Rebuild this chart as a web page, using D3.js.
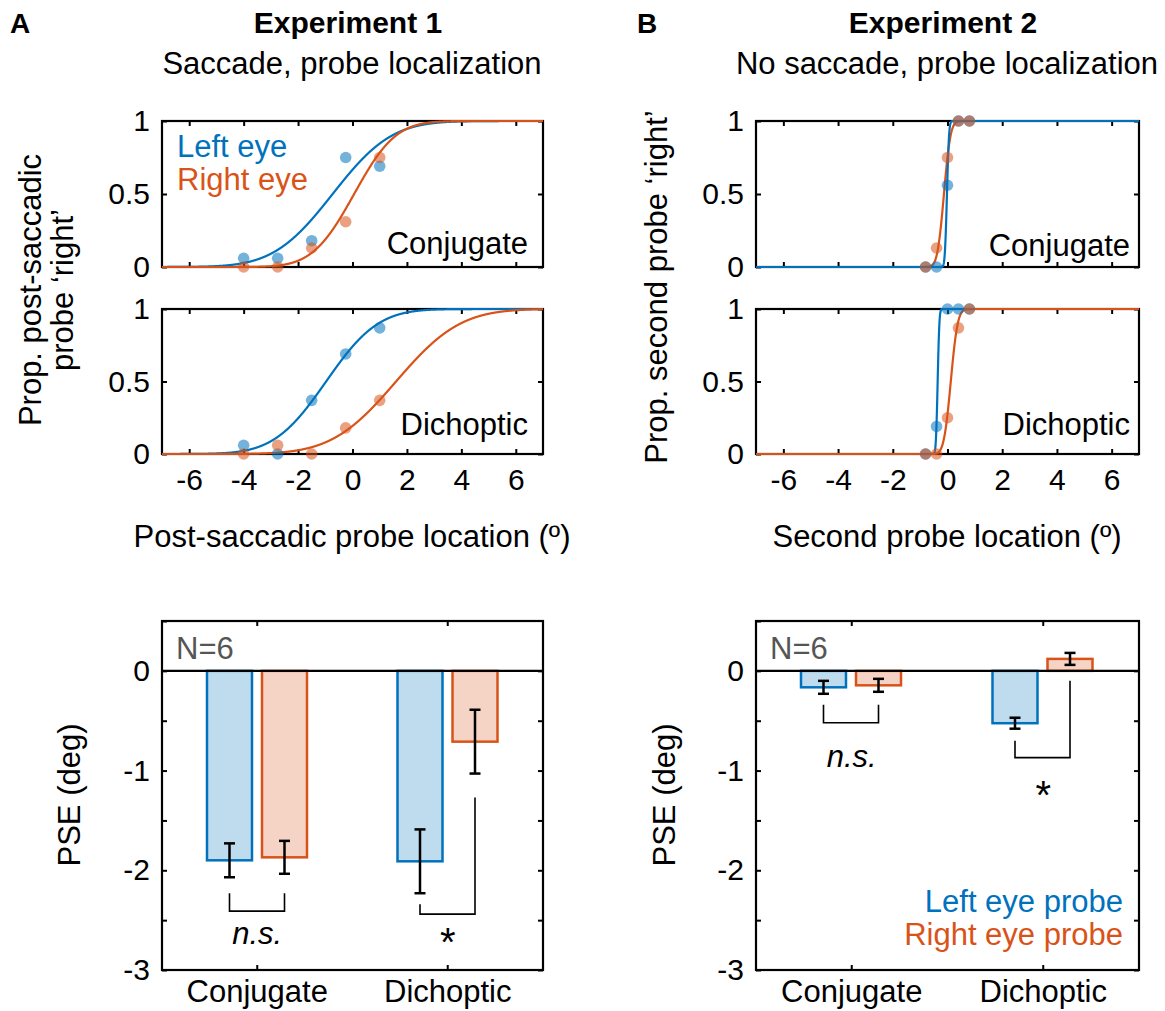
<!DOCTYPE html>
<html><head><meta charset="utf-8">
<script src="https://cdn.jsdelivr.net/npm/d3@7"></script>
<style>
body{margin:0;background:#fff}
svg{display:block}
text{font-family:"Liberation Sans",Arial,Helvetica,sans-serif;}
</style>
</head><body>
<svg id="c" width="1165" height="1011"></svg>
<script>
// ---------------- DATA ----------------
const xDomain = [-7, 7];
const xTicks = [-6, -4, -2, 0, 2, 4, 6];
const yTicksPsych = [0, 0.5, 1];

const probeX1 = [-4, -2.75, -1.5, -0.25, 1];      // Experiment 1 probe locations
const probeX2 = [-0.8, -0.4, 0, 0.4, 0.8];        // Experiment 2 probe locations

const e1ConjLeft  = [0.06, 0.06, 0.18, 0.75, 0.69];
const e1ConjRight = [0.00, 0.00, 0.13, 0.31, 0.75];
const e1DichLeft  = [0.06, 0.00, 0.37, 0.69, 0.87];
const e1DichRight = [0.00, 0.06, 0.00, 0.18, 0.37];
const e2ConjLeft  = [0.00, 0.00, 0.56, 1.00, 1.00];
const e2ConjRight = [0.00, 0.13, 0.75, 1.00, 1.00];
const e2DichLeft  = [0.00, 0.19, 1.00, 1.00, 1.00];
const e2DichRight = [0.00, 0.00, 0.25, 0.87, 1.00];

// fitted cumulative-Gaussian parameters [PSE, sigma]
const e1ConjFitLeft  = [-0.73, 1.70];
const e1ConjFitRight = [0.06, 1.20];
const e1DichFitLeft  = [-0.97, 1.50];
const e1DichFitRight = [1.60, 1.85];
const e2ConjFitLeft  = [-0.02, 0.06];
const e2ConjFitRight = [-0.13, 0.19];
const e2DichFitLeft  = [-0.36, 0.05];
const e2DichFitRight = [0.12, 0.20];

const categories = ["Conjugate", "Dichoptic"];
const eyes = ["left", "right"];
const pseTicks = [-3, -2.5, -2, -1.5, -1, -0.5, 0, 0.5];
const pseLabels = [-3, -2, -1, 0];

const e1PSELeft  = [-1.90, -1.91];
const e1PSERight = [-1.87, -0.71];
const e1SEMLeft  = [0.17, 0.32];
const e1SEMRight = [0.165, 0.32];
const e2PSELeft  = [-0.165, -0.525];
const e2PSERight = [-0.145, 0.12];
const e2SEMLeft  = [0.065, 0.055];
const e2SEMRight = [0.065, 0.06];

// significance brackets: [leftTop, rightTop, bottom] in PSE units, per category
const e1Brackets = [[-2.23, -2.23, -2.41], [-2.34, -1.27, -2.44]];
const e2Brackets = [[-0.34, -0.34, -0.52], [-0.70, -0.10, -0.87]];
const sigText = ["n.s.", "*"];
const e1SigY = [-2.74, -2.86];
const e2SigY = [-0.96, -1.39];

// ---------------- STYLE ----------------
const BLUE = "#0072BD", ORANGE = "#D95319";
const BLUE_L = "#bfdcee", ORANGE_L = "#f5d4c6";
const FS = 31, TFS = 30;

const svg = d3.select("#c");

function erf(x) {
  const s = x < 0 ? -1 : 1; x = Math.abs(x);
  const t = 1 / (1 + 0.3275911 * x);
  const y = 1 - (((((1.061405429 * t - 1.453152027) * t) + 1.421413741) * t - 0.284496736) * t + 0.254829592) * t * Math.exp(-x * x);
  return s * y;
}
const normcdf = (x, p) => 0.5 * (1 + erf((x - p[0]) / (p[1] * Math.SQRT2)));

function styleAxis(g, showText) {
  g.select(".domain").remove();
  g.selectAll(".tick line").attr("stroke", "#000").attr("stroke-width", 2);
  g.selectAll(".tick text").attr("fill", "#000").style("font-size", TFS + "px")
    .style("font-family", '"Liberation Sans",Arial,sans-serif');
  if (!showText) g.selectAll(".tick text").remove();
}

function psychPanel(o) {
  const x = d3.scaleLinear().domain(xDomain).range([o.x0, o.x1]);
  const y = d3.scaleLinear().domain([0, 1]).range([o.yBot, o.yTop]);
  const g = svg.append("g");
  g.append("rect").attr("x", o.x0).attr("y", o.yTop).attr("width", o.x1 - o.x0).attr("height", o.yBot - o.yTop)
    .attr("fill", "none").attr("stroke", "#000").attr("stroke-width", 2.2);
  g.append("g").attr("transform", `translate(0,${o.yBot})`)
    .call(d3.axisBottom(x).tickValues(xTicks).tickSize(-5).tickPadding(15).tickFormat(d => String(d)))
    .call(a => styleAxis(a, o.xLabels));
  g.append("g").attr("transform", `translate(0,${o.yTop})`)
    .call(d3.axisTop(x).tickValues(xTicks).tickSize(-5)).call(a => styleAxis(a, false));
  g.append("g").attr("transform", `translate(${o.x0},0)`)
    .call(d3.axisLeft(y).tickValues(yTicksPsych).tickSize(-5).tickPadding(12).tickFormat(d => String(d)))
    .call(a => styleAxis(a, true));
  g.append("g").attr("transform", `translate(${o.x1},0)`)
    .call(d3.axisRight(y).tickValues(yTicksPsych).tickSize(-5)).call(a => styleAxis(a, false));

  const xs = d3.range(xDomain[0], xDomain[1] + 0.0001, 0.005);
  const line = d3.line().x(d => x(d[0])).y(d => y(d[1]));
  const series = [
    {c: BLUE, fit: o.fitL, vals: o.left},
    {c: ORANGE, fit: o.fitR, vals: o.right}
  ];
  const ordered = o.blueTop ? [series[1], series[0]] : series;
  ordered.forEach(s => {
    g.append("path").datum(xs.map(v => [v, normcdf(v, s.fit)]))
      .attr("d", line).attr("fill", "none").attr("stroke", s.c).attr("stroke-width", 2.2);
  });
  series.forEach(s => {
    g.selectAll(null).data(o.probes.map((p, i) => [p, s.vals[i]])).join("circle")
      .attr("cx", d => x(d[0])).attr("cy", d => y(d[1])).attr("r", 5.8)
      .attr("fill", s.c).attr("fill-opacity", 0.55);
  });
  g.append("text").attr("x", o.labelX).attr("y", o.labelY).attr("text-anchor", "end")
    .style("font-size", FS + "px").text(o.label);
  return g;
}

// ---------- Experiment 1 psychometric ----------
const L0 = 162, L1 = 543, R0 = 756, R1 = 1139;
psychPanel({x0: L0, x1: L1, yTop: 121, yBot: 267, probes: probeX1, left: e1ConjLeft, right: e1ConjRight,
  fitL: e1ConjFitLeft, fitR: e1ConjFitRight, label: "Conjugate", labelX: 528, labelY: 254, xLabels: false});
psychPanel({x0: L0, x1: L1, yTop: 309, yBot: 454, probes: probeX1, left: e1DichLeft, right: e1DichRight,
  fitL: e1DichFitLeft, fitR: e1DichFitRight, label: "Dichoptic", labelX: 528, labelY: 435, xLabels: true});
psychPanel({x0: R0, x1: R1, yTop: 121, yBot: 267, probes: probeX2, left: e2ConjLeft, right: e2ConjRight,
  fitL: e2ConjFitLeft, fitR: e2ConjFitRight, label: "Conjugate", labelX: 1130, labelY: 256, xLabels: false, blueTop: true});
psychPanel({x0: R0, x1: R1, yTop: 309, yBot: 454, probes: probeX2, left: e2DichLeft, right: e2DichRight,
  fitL: e2DichFitLeft, fitR: e2DichFitRight, label: "Dichoptic", labelX: 1130, labelY: 435, xLabels: true});

svg.append("text").attr("x", 177).attr("y", 157).attr("fill", BLUE).style("font-size", FS + "px").text("Left eye");
svg.append("text").attr("x", 177).attr("y", 190).attr("fill", ORANGE).style("font-size", FS + "px").text("Right eye");

// ---------- Bar panels ----------
function barPanel(o) {
  const y = d3.scaleLinear().domain([-3, 0.5]).range([970, 621]);
  const xc = d3.scaleBand().domain(categories).range([o.x0, o.x1]);
  const xe = d3.scaleBand().domain(eyes).range([45, 145]).paddingInner(0.182);
  const g = svg.append("g");
  g.append("rect").attr("x", o.x0).attr("y", 621).attr("width", o.x1 - o.x0).attr("height", 349)
    .attr("fill", "none").attr("stroke", "#000").attr("stroke-width", 2.2);
  g.append("g").attr("transform", "translate(0,970)")
    .call(d3.axisBottom(xc).tickSize(-5).tickPadding(10)).call(a => styleAxis(a, true))
    .selectAll(".tick text").style("font-size", FS + "px").attr("dy", null).attr("y", 32);
  g.append("g").attr("transform", "translate(0,621)")
    .call(d3.axisTop(xc).tickSize(-5)).call(a => styleAxis(a, false));
  g.append("g").attr("transform", `translate(${o.x0},0)`)
    .call(d3.axisLeft(y).tickValues(pseTicks).tickSize(-5).tickPadding(12)
      .tickFormat(d => pseLabels.includes(d) ? String(d) : ""))
    .call(a => styleAxis(a, true));
  g.append("g").attr("transform", `translate(${o.x1},0)`)
    .call(d3.axisRight(y).tickValues(pseTicks.slice(0, -1)).tickSize(-5)).call(a => styleAxis(a, false));

  const bx = (ci, eye) => xc(categories[ci]) + xe(eye);
  const cx = (ci, eye) => bx(ci, eye) + xe.bandwidth() / 2;
  const sets = [
    {eye: "left", vals: o.left, sem: o.semL, c: BLUE, f: BLUE_L},
    {eye: "right", vals: o.right, sem: o.semR, c: ORANGE, f: ORANGE_L}
  ];
  sets.forEach(s => {
    g.selectAll(null).data(s.vals).join("rect")
      .attr("x", (d, i) => bx(i, s.eye)).attr("width", xe.bandwidth())
      .attr("y", d => Math.min(y(d), y(0))).attr("height", d => Math.abs(y(d) - y(0)))
      .attr("fill", s.f).attr("stroke", s.c).attr("stroke-width", 2.5);
  });
  // zero line
  g.append("line").attr("x1", o.x0).attr("x2", o.x1).attr("y1", y(0)).attr("y2", y(0))
    .attr("stroke", "#000").attr("stroke-width", 2.2);
  // error bars
  sets.forEach(s => {
    s.vals.forEach((v, i) => {
      const X = cx(i, s.eye), a = y(v + s.sem[i]), b = y(v - s.sem[i]);
      g.append("line").attr("x1", X).attr("x2", X).attr("y1", a).attr("y2", b).attr("stroke", "#000").attr("stroke-width", 2.5);
      [a, b].forEach(yy => g.append("line").attr("x1", X - 5.5).attr("x2", X + 5.5).attr("y1", yy).attr("y2", yy)
        .attr("stroke", "#000").attr("stroke-width", 2.5));
    });
  });
  // brackets
  const bl = d3.line();
  o.brackets.forEach((b, i) => {
    const xl = cx(i, "left"), xr = cx(i, "right");
    g.append("path").attr("d", bl([[xl, y(b[0])], [xl, y(b[2])], [xr, y(b[2])], [xr, y(b[1])]]))
      .attr("fill", "none").attr("stroke", "#000").attr("stroke-width", 1.6);
    g.append("text").attr("x", xc(categories[i]) + xc.bandwidth() / 2).attr("y", y(o.sigY[i]))
      .attr("text-anchor", "middle").style("font-size", (i === 0 ? FS : 40) + "px")
      .style("font-style", i === 0 ? "italic" : "normal").text(sigText[i]);
  });
  g.append("text").attr("x", o.x0 + 14).attr("y", 659).attr("fill", "#555").style("font-size", FS + "px").text("N=6");
  return g;
}

barPanel({x0: L0, x1: L1, left: e1PSELeft, right: e1PSERight, semL: e1SEMLeft, semR: e1SEMRight,
  brackets: e1Brackets, sigY: e1SigY});
barPanel({x0: R0, x1: R1, left: e2PSELeft, right: e2PSERight, semL: e2SEMLeft, semR: e2SEMRight,
  brackets: e2Brackets, sigY: e2SigY});

svg.append("text").attr("x", 1123).attr("y", 912).attr("text-anchor", "end").attr("fill", BLUE)
  .style("font-size", FS + "px").text("Left eye probe");
svg.append("text").attr("x", 1123).attr("y", 945).attr("text-anchor", "end").attr("fill", ORANGE)
  .style("font-size", FS + "px").text("Right eye probe");

// ---------- Titles & axis labels ----------
svg.append("text").attr("x", 10).attr("y", 33).style("font-size", "28px").style("font-weight", "bold").text("A");
svg.append("text").attr("x", 637).attr("y", 33).style("font-size", "28px").style("font-weight", "bold").text("B");
svg.append("text").attr("x", 348).attr("y", 33).attr("text-anchor", "middle").style("font-size", "30px").style("font-weight", "bold").text("Experiment 1");
svg.append("text").attr("x", 352).attr("y", 74).attr("text-anchor", "middle").style("font-size", FS + "px").text("Saccade, probe localization");
svg.append("text").attr("x", 943).attr("y", 33).attr("text-anchor", "middle").style("font-size", "30px").style("font-weight", "bold").text("Experiment 2");
svg.append("text").attr("x", 947).attr("y", 74).attr("text-anchor", "middle").style("font-size", FS + "px").text("No saccade, probe localization");

svg.append("text").attr("x", 352).attr("y", 547).attr("text-anchor", "middle").style("font-size", FS + "px").text("Post-saccadic probe location (º)");
svg.append("text").attr("x", 947).attr("y", 547).attr("text-anchor", "middle").style("font-size", FS + "px").text("Second probe location (º)");

const yl = svg.append("text").attr("transform", "translate(41,290) rotate(-90)").attr("text-anchor", "middle").style("font-size", FS + "px");
yl.append("tspan").attr("x", 0).attr("y", 0).text("Prop. post-saccadic");
yl.append("tspan").attr("x", 0).attr("y", 32).text("probe ‘right’");
svg.append("text").attr("transform", "translate(667,287) rotate(-90)").attr("text-anchor", "middle").style("font-size", FS + "px").text("Prop. second probe ‘right’");
svg.append("text").attr("transform", "translate(80,795) rotate(-90)").attr("text-anchor", "middle").style("font-size", FS + "px").text("PSE (deg)");
svg.append("text").attr("transform", "translate(675,795) rotate(-90)").attr("text-anchor", "middle").style("font-size", FS + "px").text("PSE (deg)");
</script>
</body></html>
